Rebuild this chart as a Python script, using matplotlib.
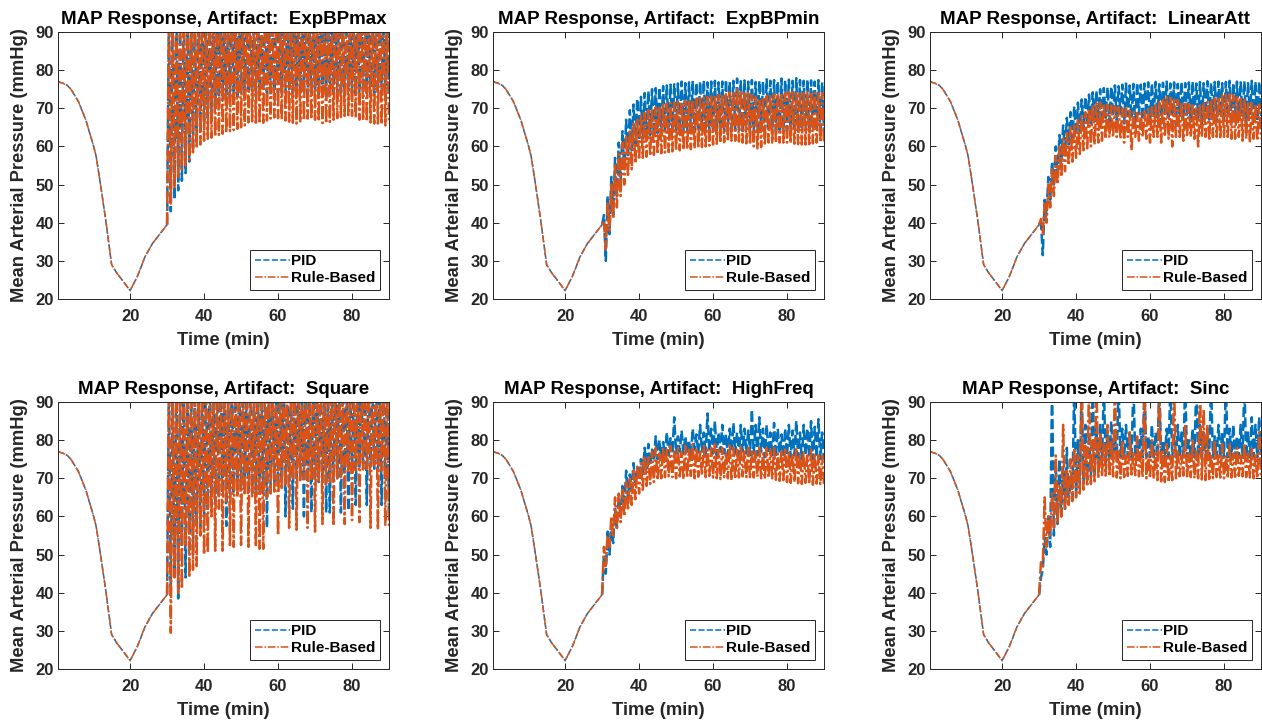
import matplotlib
matplotlib.use('Agg')
import matplotlib.pyplot as plt

plt.rcParams['font.family'] = ['Liberation Sans', 'DejaVu Sans']
plt.rcParams['font.weight'] = 'bold'

# shared part of every run (0-30 min)
base_t = [0.5, 2, 3, 4, 6, 8, 10, 10.8, 12, 13.5, 15, 16.4, 18, 20, 22, 24, 26, 28, 30]
base_y = [77, 76.5, 76, 75, 71.8, 67, 60.5, 57.5, 50, 40, 29, 26.8, 24.8, 22.2, 26, 31, 34.5, 37, 39.5]

# after 30 min: peak value each minute (30.5 ... 89.5) and dip value (31 ... 90)
above_range = [96, 94, 97, 95, 98, 95, 96, 94, 97, 95,
               95, 97, 94, 96, 98, 95, 94, 97, 96, 95,
               97, 95, 96, 94, 98, 95, 97, 96, 94, 95,
               96, 98, 95, 94, 97, 96, 95, 98, 94, 96,
               95, 97, 94, 96, 95, 98, 96, 94, 97, 95,
               94, 96, 98, 95, 97, 94, 96, 95, 97, 96]

titles = ['ExpBPmax', 'ExpBPmin', 'LinearAtt', 'Square', 'HighFreq', 'Sinc']

p1_pid_lo = [43, 46, 48.5, 51, 53, 56, 59, 62, 64, 66,
             67.5, 69, 70, 71, 72, 72.5, 73, 73.5, 73, 74,
             73.5, 74, 74.5, 73.5, 74, 75, 74, 73.5, 74.5, 74,
             73.5, 74, 75, 74, 73.5, 74, 74.5, 73.5, 74, 74.5,
             73.5, 74, 72.5, 73.5, 74, 74.5, 73.5, 74, 74.5, 74,
             73.5, 74, 74.5, 74, 73.5, 74, 74.5, 74, 73, 72.5]
p1_rb_lo = [45, 49, 52, 54, 55, 56.5, 58, 59.5, 60.5, 61.5,
            62, 62.3, 62.6, 63, 63.3, 63.6, 64, 64.3, 64.6, 65,
            65.5, 66.3, 66.6, 66.2, 66, 66.2, 66.8, 67.3, 67.6, 67.4,
            67, 66.8, 66.5, 66.2, 66, 66.3, 66.8, 67.3, 67.2, 67,
            66.6, 66.1, 66, 66.4, 67, 67.4, 67.7, 68, 68.2, 68,
            67.5, 67, 66.8, 66.5, 66.3, 66, 66, 65.8, 65.5, 66]

p2_pid_hi = [42, 47, 52, 57, 61, 64, 67, 69.5, 71, 72.5,
             73, 74, 74.5, 75, 75.3, 75.5, 75.8, 76, 76.2, 76.3,
             76.5, 77, 76.6, 76.8, 77.2, 76.7, 77, 77.3, 76.8, 77,
             77.2, 76.8, 77, 77.5, 76.9, 77.2, 77.8, 77.1, 77.3, 77,
             77.4, 76.9, 77.2, 77, 77.6, 77.2, 77.4, 77.1, 77.8, 77.3,
             77.5, 77.2, 77.9, 77.4, 77.2, 77.6, 77.3, 77, 77.4, 76.8]
p2_pid_lo = [30, 37, 42, 47, 51, 54, 57, 59, 60.5, 61.5,
             62, 62.5, 63, 63, 63.5, 63.8, 64, 63.5, 64.2, 64,
             64.5, 64, 63.8, 64.3, 64, 64.5, 64.2, 63.9, 64.4, 64,
             64.2, 64.5, 64, 64.3, 64.1, 64.6, 64.2, 64, 64.4, 64.1,
             64.3, 64, 64.5, 64.2, 64, 64.4, 64.1, 64.3, 64, 64.2,
             64.5, 64.1, 64, 64.3, 64.2, 64, 64.4, 64.1, 64.3, 64]
p2_rb_hi = [40, 45, 50, 55, 58, 61, 63, 64.5, 66, 67,
            68, 68.8, 69.5, 70, 70.3, 70.6, 71, 71.2, 71.4, 71.5,
            71.7, 71.8, 72, 72.1, 72.3, 72.5, 72.6, 72.8, 73, 73.1,
            73.3, 73.5, 73.7, 74, 74.2, 74.5, 75, 74.8, 74.4, 74,
            73.5, 73, 72.5, 72.8, 73.2, 73.5, 73.7, 73.9, 74, 74.1,
            74.2, 74.2, 74.3, 74.3, 74.3, 74.3, 74.2, 74.1, 74, 74]
p2_rb_lo = [33, 38, 41, 44, 47, 50, 52, 54, 55.5, 56.5,
            57, 57.3, 57.5, 57.8, 58, 58.2, 58.4, 58.5, 58.7, 59,
            59, 59.1, 59.2, 59.3, 59.5, 59.6, 59.8, 60, 60.2, 60.5,
            60.7, 60.9, 61.1, 61.3, 61.5, 61.5, 61.3, 61, 60.8, 60.5,
            60, 59.5, 59.8, 60.3, 61, 61, 61, 61, 61, 61,
            60.8, 60.7, 60.6, 60.5, 60.5, 60.6, 60.8, 61, 61, 61]

p3_pid_hi = [40, 46, 52, 56, 60, 63, 65.5, 67.5, 69, 70.5,
             71.5, 72.3, 73, 73.6, 74.2, 74.6, 75, 75.3, 75.5, 75.7,
             76, 75.8, 76.2, 76.5, 76, 76.4, 76.7, 76.2, 76.5, 76.8,
             76.5, 76.9, 76.3, 76.7, 77, 76.5, 76.8, 76.4, 76.9, 76.6,
             76.8, 77, 76.5, 76.9, 76.6, 77.1, 76.7, 76.9, 77, 76.6,
             76.9, 77.2, 76.7, 77, 76.8, 77.1, 76.6, 77.2, 76.9, 77]
p3_pid_lo = [31.5, 42, 46, 50, 53, 56, 58.5, 60.5, 62, 63,
             64, 65, 65.5, 66, 66.5, 67, 66, 67.5, 66.5, 68,
             67, 68.5, 66, 68, 67.5, 65, 68.5, 67, 68, 66.5,
             68.5, 67.5, 66, 68.5, 67, 68, 65.5, 68.5, 67, 68,
             66.5, 68.5, 67.5, 66, 68.5, 67, 68, 66.5, 68.5, 67,
             68, 65.5, 68.5, 67, 68, 66, 68.5, 67.5, 66.5, 68]
p3_rb_hi = [41, 45, 50, 54, 57.5, 60, 62, 63.5, 65, 66,
            67, 68, 69, 70, 70.8, 71.3, 71.5, 71.3, 71, 70.7,
            70.5, 70.3, 70, 70, 69.5, 69, 68.8, 68.6, 69.2, 69.8,
            70.3, 70.8, 71.5, 72.3, 73, 73.3, 72.8, 72.2, 71.6, 71.2,
            71, 70.8, 70.5, 70.7, 71.2, 71.7, 72.2, 72.6, 73, 73.4,
            73.6, 73.7, 73.4, 72.9, 72.5, 72.2, 71.8, 71.5, 71.2, 71]
p3_rb_lo = [37, 40, 44, 47, 50, 52, 53.5, 55, 56, 57,
            58, 59, 59.5, 60, 60.5, 61, 61.5, 62, 62.3, 62.5,
            62.5, 62, 61, 62.5, 59, 62.5, 61.5, 62.5, 62, 61,
            62.5, 62.5, 61, 62.5, 62, 60, 62.5, 62.5, 61.5, 62.5,
            62.5, 62, 60, 62.5, 62.5, 61.5, 62.5, 62.5, 62, 62.5,
            62.5, 62, 62, 62.5, 61.5, 62, 61, 62, 61.5, 62]

p4_pid_lo = [42, 45, 38.5, 52, 44, 55, 50, 58, 57, 60,
             62, 63, 64, 65, 66, 57.5, 66, 66.5, 67, 67,
             66.5, 66, 66, 65.5, 66, 66, 57, 67.5, 68, 68.5,
             69, 60, 69.5, 62, 70, 70, 60, 69.5, 61, 69.5,
             69, 69, 61, 61, 69.5, 70, 61, 71, 61.5, 72,
             63, 72.5, 72.5, 63, 73, 72.5, 72, 63, 71.5, 60]
p4_rb_lo = [29.5, 44, 40, 41, 52, 44, 46, 47, 55, 50,
            50.5, 60, 51, 62, 51, 64, 52.5, 52, 65, 52.5,
            65.5, 52, 65, 52, 51.5, 51.5, 65, 66, 66.5, 55,
            67, 68, 57, 69.5, 56.5, 69.5, 69.8, 57, 69.5, 56,
            69, 58, 68.5, 69, 57.5, 70, 70.5, 58, 71.5, 59,
            72, 58.5, 72.3, 72.5, 57, 73, 56.5, 72, 57.5, 57.5]

p5_pid_hi = [50, 56, 58, 62, 65, 68, 72, 71, 74, 73,
             75, 78, 79, 77.5, 81, 80, 79.5, 82, 80.5, 86,
             81, 82.5, 81, 80, 83, 81.5, 84, 82, 87, 83,
             85, 82, 84, 81.5, 83, 84.5, 82, 84, 83, 82.5,
             88, 84, 86, 83, 84, 82, 84.5, 83, 81.5, 83,
             84, 82.5, 85, 82, 84, 83, 85, 83.5, 85.5, 82]
p5_pid_lo = [45, 50, 53, 57, 60, 62.5, 65, 67, 68.5, 70,
             71.5, 72.5, 73.5, 74.5, 75, 75.5, 76, 76, 76.5, 76.5,
             77, 76.5, 77, 76, 77.5, 76.5, 77, 76, 77, 76.5,
             76, 77, 76.5, 76, 77, 76.5, 76, 77, 76.5, 76,
             76.5, 76, 77, 75.5, 76.5, 76, 75.5, 76.5, 75.5, 76,
             75.5, 76, 75.5, 75, 76, 75.5, 75, 75.5, 75, 75]
p5_rb_hi = [52, 55, 60, 65, 66, 67, 69, 70, 72, 73,
            74, 76, 75.5, 77, 78, 76.5, 78, 77.5, 78.5, 77,
            78, 77, 78.5, 77.5, 79, 78, 77, 78.5, 77.5, 78,
            79, 77.5, 78, 77, 79, 78, 77.5, 78.5, 77, 78,
            77.5, 77, 78, 76.5, 78, 77.5, 78, 76.5, 77.5, 78,
            77, 76.5, 78, 76.5, 77, 76, 77.5, 76.5, 76, 76]
p5_rb_lo = [47, 52, 55, 57, 58.5, 60, 61.5, 63, 64.5, 66,
            67, 68, 68.5, 69, 69.5, 70, 70.3, 70.5, 70.3, 70,
            70.5, 69.8, 70.2, 70.6, 70, 70.4, 70.8, 70.3, 70.6, 70.2,
            70, 69.8, 70.3, 70, 69.5, 69.8, 70.2, 70.5, 70.3, 70,
            70.2, 70.4, 70, 69.8, 70.2, 70, 69.6, 69.3, 69.5, 69,
            68.8, 69, 68.7, 68.5, 68.8, 68.5, 68.3, 68.6, 68.5, 68.5]

p6_pid_hi = [44, 54.5, 60, 95, 74, 75, 73, 78, 70, 95,
             80, 95, 84, 82, 95, 83, 84, 95, 82, 85,
             81, 95, 83, 84, 82, 95, 80, 83, 95, 81,
             84, 82, 95, 80, 83, 95, 81, 84, 82, 95,
             80, 83, 95, 84, 82, 83, 95, 81, 84, 82,
             95, 83, 84, 81, 84, 95, 82, 86, 84, 86]
p6_pid_lo = [46, 50, 52, 55, 58, 60, 62, 63.5, 65, 66,
             67.5, 68.5, 69.5, 70.5, 71.5, 72.5, 73.3, 74, 74.5, 75,
             75.5, 75.5, 75.5, 75.5, 75.5, 75.5, 75.5, 75.5, 75.5, 75.5,
             75.5, 75.5, 75.5, 75.5, 75.5, 75.5, 75.5, 75.5, 75.5, 75.5,
             75.5, 75.5, 75.5, 75.5, 75.5, 75.5, 75.5, 75.5, 75.5, 75.5,
             75.5, 75.5, 75.5, 75.5, 75.5, 75.5, 75.5, 75.5, 75.5, 75.5]
p6_rb_hi = [48, 65, 60, 66, 76, 68, 84, 72, 75, 78,
            76, 95, 79, 95, 80, 95, 82, 79, 84, 80,
            95, 77, 80, 76, 82, 76.5, 81, 77, 95, 76,
            80, 76.5, 95, 77, 79, 76, 95, 77.5, 76, 84,
            76.5, 80, 77, 95, 88, 84, 76.5, 80, 76, 79,
            76, 79, 76.5, 78, 76, 79, 76.5, 78, 76, 82]
p6_rb_lo = [47, 52, 55, 57, 58.5, 60, 61.5, 63, 64, 65,
            66, 67, 67.8, 68.5, 69.2, 70, 70.5, 70.7, 70.5, 70.5,
            70.2, 70, 70.3, 70.6, 71, 70.8, 70.5, 70.3, 70, 70,
            69.8, 69.5, 69.2, 69, 69, 69.5, 70, 70.5, 70.7, 70.5,
            70.3, 70, 70, 69.7, 69.5, 69.8, 70, 70.3, 70.2, 70,
            70, 70.2, 70.4, 70.6, 70.5, 70.3, 70.2, 70, 70, 70]

runs = [
    (above_range, p1_pid_lo, above_range, p1_rb_lo),
    (p2_pid_hi, p2_pid_lo, p2_rb_hi, p2_rb_lo),
    (p3_pid_hi, p3_pid_lo, p3_rb_hi, p3_rb_lo),
    (above_range, p4_pid_lo, above_range, p4_rb_lo),
    (p5_pid_hi, p5_pid_lo, p5_rb_hi, p5_rb_lo),
    (p6_pid_hi, p6_pid_lo, p6_rb_hi, p6_rb_lo),
]


def trace(hi, lo):
    t = [base_t[-1]]
    y = [base_y[-1]]
    for i in range(len(hi)):
        t += [30.5 + i, 31 + i]
        y += [hi[i], lo[i]]
    return t, y


blue = '#0072BD'
orange = '#D95319'
dark = '#262626'

fig = plt.figure(figsize=(12.62, 7.24), dpi=100)
lefts = [58 / 1262, 493 / 1262, 930 / 1262]
bottoms = [(724 - 299) / 724, (724 - 669) / 724]
w = 331 / 1262
h = 267 / 724

for k in range(6):
    ax = fig.add_axes([lefts[k % 3], bottoms[k // 3], w, h])
    pid_hi, pid_lo, rb_hi, rb_lo = runs[k]
    t1, y1 = trace(pid_hi, pid_lo)
    t2, y2 = trace(rb_hi, rb_lo)
    # 0-30 min part, thin
    l1, = ax.plot(base_t, base_y, color=blue, ls='--', lw=1.1, dashes=(4, 1.5))
    l2, = ax.plot(base_t, base_y, color=orange, ls='-.', lw=1.1, dashes=(5, 1.2, 1, 1.2))
    # oscillating part after 30 min
    ax.plot(t1, y1, color=blue, lw=1.8, dashes=(4, 1.5))
    ax.plot(t2, y2, color=orange, lw=1.8, dashes=(5, 1.2, 1, 1.2))
    ax.set_xlim(0.5, 90)
    ax.set_ylim(20, 90)
    ax.set_xticks([20, 40, 60, 80])
    ax.set_yticks(range(20, 91, 10))
    ax.tick_params(direction='in', top=True, right=True, length=4, width=0.7,
                   colors=dark, labelsize=12)
    ax.tick_params(axis='x', pad=7)
    ax.tick_params(axis='y', pad=3)
    for s in ax.spines.values():
        s.set_color(dark)
        s.set_linewidth(0.7)
    ax.set_title('MAP Response, Artifact:  ' + titles[k], fontsize=13.5,
                 fontweight='bold', pad=6)
    ax.set_xlabel('Time (min)', fontsize=13.2, fontweight='bold', color=dark)
    ax.set_ylabel('Mean Arterial Pressure (mmHg)', fontsize=13.2, fontweight='bold',
                  color=dark)
    ax.xaxis.set_label_coords(0.5, -0.122)
    ax.yaxis.set_label_coords(-0.092, 0.5)
    leg = ax.legend([l1, l2], ['PID', 'Rule-Based'], loc='lower right',
                    prop={'size': 11, 'weight': 'bold'},
                    fancybox=False, edgecolor=dark, framealpha=1, handlelength=2.3,
                    borderaxespad=0.6, borderpad=0.3, labelspacing=0.2, handletextpad=0.05)
    leg.get_frame().set_linewidth(0.7)

fig.savefig('out.png', dpi=100, facecolor='white')
